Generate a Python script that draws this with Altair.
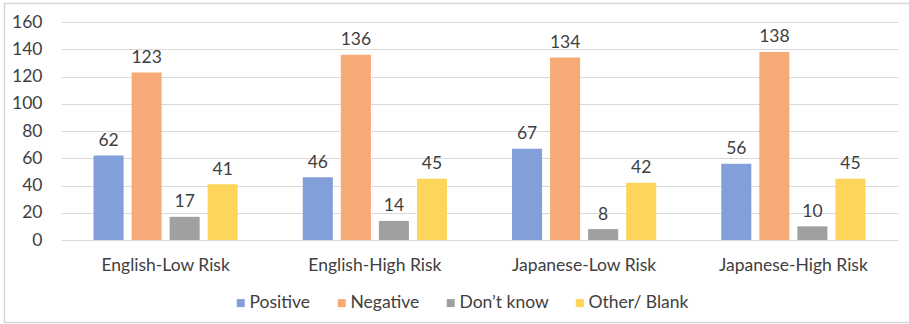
import altair as alt
import pandas as pd

# Survey responses by audience group
groups = ["English-Low Risk", "English-High Risk", "Japanese-Low Risk", "Japanese-High Risk"]
series = ["Positive", "Negative", "Don\u2019t know", "Other/ Blank"]
positive = [62, 46, 67, 56]
negative = [123, 136, 134, 138]
dont_know = [17, 14, 8, 10]
other_blank = [41, 45, 42, 45]
colors = ["#829fd9", "#f5aa77", "#a0a0a0", "#fdd55a"]
y_ticks = [0, 20, 40, 60, 80, 100, 120, 140, 160]

rows = []
for name, vals in zip(series, [positive, negative, dont_know, other_blank]):
    for g, v in zip(groups, vals):
        rows.append({"group": g, "series": name, "value": v})
df = pd.DataFrame(rows)

FONT = "Lato"
FS = 17.5
W, H = 837, 218
PAD = {"left": 61, "top": 22, "right": 11, "bottom": 84}

x_enc = alt.X("group:N", sort=groups, title=None,
              scale=alt.Scale(paddingInner=0, paddingOuter=0),
              axis=alt.Axis(labelAngle=0, ticks=False, domain=False,
                            labelPadding=16, labelFontSize=FS,
                            labelColor="#404040", labelFont=FONT))
xo_enc = alt.XOffset("series:N", sort=series,
                     scale=alt.Scale(paddingInner=0.21, paddingOuter=0.855))
y_enc = alt.Y("value:Q", title=None,
              scale=alt.Scale(domain=[0, 160], nice=False),
              axis=alt.Axis(values=y_ticks, ticks=False, domain=False,
                            labelPadding=19, labelFontSize=FS,
                            labelColor="#404040", labelFont=FONT,
                            gridColor="#d9d9d9", gridWidth=1))

base = alt.Chart(df)

bars = base.mark_bar().encode(
    x=x_enc,
    xOffset=xo_enc,
    y=y_enc,
    color=alt.Color("series:N", sort=series,
                    scale=alt.Scale(domain=series, range=colors),
                    legend=alt.Legend(title=None, orient="none", direction="horizontal",
                                      legendX=171, legendY=272, padding=0,
                                      symbolType="square", symbolSize=64,
                                      symbolStrokeWidth=0, labelFontSize=FS,
                                      labelFont=FONT, labelColor="#404040",
                                      labelOffset=0, columnPadding=22)),
)

labels = base.mark_text(baseline="alphabetic", dy=-9.5, fontSize=FS,
                        font=FONT, color="#404040").encode(
    x=x_enc,
    xOffset=xo_enc,
    y=y_enc,
    text=alt.Text("value:Q"),
)

# Thin frame around the whole chart
frame = alt.Chart(pd.DataFrame({"k": [0]})).mark_rect(
    filled=False, stroke="#d6d6d6", strokeWidth=1.5
).encode(
    x=alt.value(-56.5), x2=alt.value(W + 20),
    y=alt.value(-18.5), y2=alt.value(H + 82.5),
)

chart = alt.layer(bars, labels, frame).properties(
    width=W, height=H, padding=PAD, autosize=alt.AutoSizeParams(type="none"),
    background="white",
).configure_view(stroke=None)

chart.save("out.html", embed_options={"renderer": "svg", "actions": False})
